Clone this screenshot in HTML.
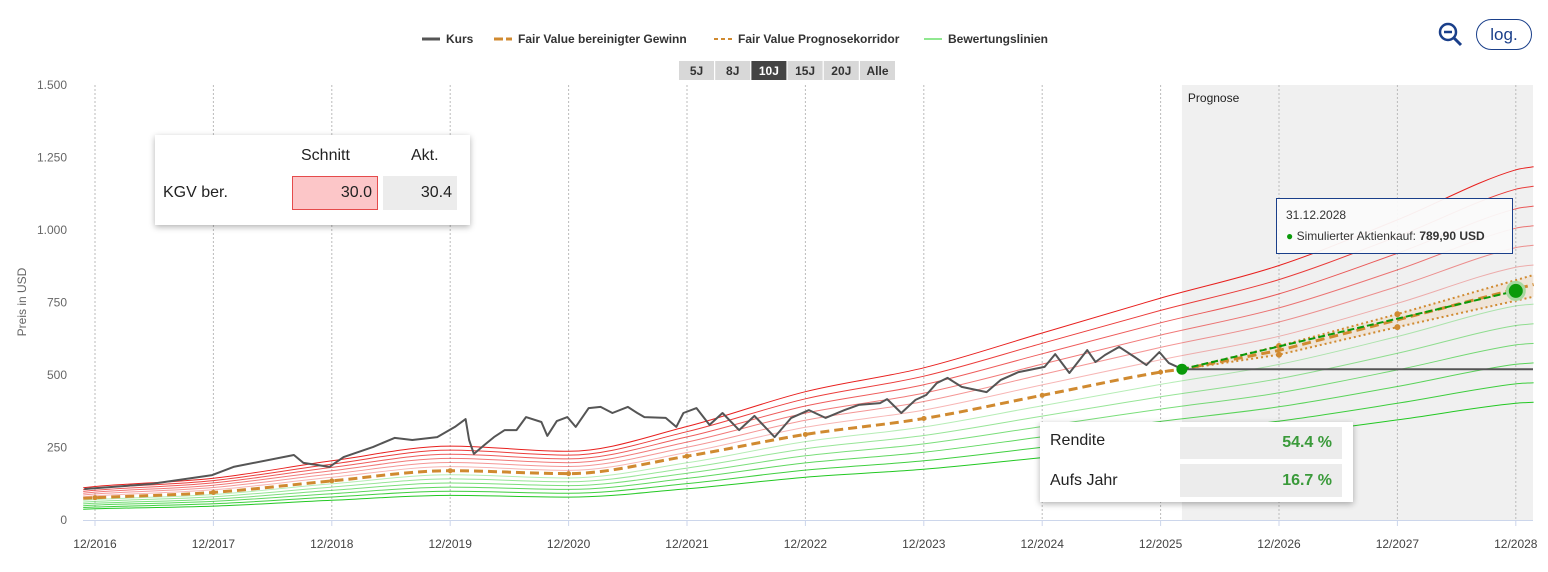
<!DOCTYPE html>
<html><head><meta charset="utf-8">
<style>
body{margin:0;background:#fff;font-family:"Liberation Sans",sans-serif;}
#wrap{position:relative;width:1548px;height:572px;overflow:hidden;}
svg{position:absolute;left:0;top:0;}
.box{position:absolute;background:#fff;box-shadow:0 2px 6px rgba(0,0,0,0.3);}
</style></head><body>
<div id="wrap">
<svg id="chart" width="1548" height="572"></svg>

<div class="box" style="left:155px;top:135px;width:315px;height:90px;">
  <div style="position:absolute;left:146px;top:12px;font-size:16px;color:#222;">Schnitt</div>
  <div style="position:absolute;left:256px;top:12px;font-size:16px;color:#222;">Akt.</div>
  <div style="position:absolute;left:8px;top:49px;font-size:16px;color:#222;">KGV ber.</div>
  <div style="position:absolute;left:137px;top:41px;width:84px;height:32px;background:#fcc6c8;border:1px solid #e54b4b;font-size:16px;color:#222;text-align:right;line-height:32px;"><span style="padding-right:5px">30.0</span></div>
  <div style="position:absolute;left:228px;top:41px;width:74px;height:34px;background:#ececec;font-size:16px;color:#222;text-align:right;line-height:34px;"><span style="padding-right:5px">30.4</span></div>
</div>

<div class="box" style="left:1040px;top:422px;width:313px;height:80px;">
  <div style="position:absolute;left:10px;top:10px;font-size:16px;color:#222;">Rendite</div>
  <div style="position:absolute;left:140px;top:5px;width:162px;height:32px;background:#ececec;font-size:16px;color:#3a9a3a;font-weight:bold;text-align:right;line-height:32px;"><span style="padding-right:10px">54.4 %</span></div>
  <div style="position:absolute;left:10px;top:50px;font-size:16px;color:#222;">Aufs Jahr</div>
  <div style="position:absolute;left:140px;top:42px;width:162px;height:33px;background:#ececec;font-size:16px;color:#3a9a3a;font-weight:bold;text-align:right;line-height:33px;"><span style="padding-right:10px">16.7 %</span></div>
</div>

<div style="position:absolute;left:1276px;top:198px;width:235px;height:54px;background:rgba(250,250,250,0.95);border:1px solid #1a3f8a;">
  <div style="position:absolute;left:9px;top:9px;font-size:12px;color:#333;">31.12.2028</div>
  <div style="position:absolute;left:9px;top:30px;font-size:12px;color:#333;white-space:nowrap;"><span style="color:#0a9a0a">●</span> Simulierter Aktienkauf: <b>789,90 USD</b></div>
</div>

<div style="position:absolute;left:1476px;top:19px;width:56px;height:31px;border:1px solid #1a3f8a;border-radius:16px;box-sizing:border-box;font-size:17px;color:#1a3f8a;text-align:center;line-height:29px;">log.</div>
<svg width="28" height="28" style="left:1437px;top:21px;">
  <circle cx="11" cy="11" r="8" fill="none" stroke="#1a3f8a" stroke-width="2.5"/>
  <line x1="7" y1="11" x2="15" y2="11" stroke="#1a3f8a" stroke-width="2.5"/>
  <line x1="17" y1="17" x2="24" y2="24" stroke="#1a3f8a" stroke-width="3"/>
</svg>
</div>

<script>
const yearLabels=["12/2016","12/2017","12/2018","12/2019","12/2020","12/2021","12/2022","12/2023","12/2024","12/2025","12/2026","12/2027","12/2028"];
const yTicks=[0,250,500,750,1000,1250,1500];
const yTickLabels=["0","250","500","750","1.000","1.250","1.500"];
const kursT=[-0.09,0.47,0.99,1.17,1.68,1.76,1.98,2.10,2.35,2.53,2.68,2.89,3.04,3.13,3.16,3.20,3.29,3.37,3.46,3.56,3.64,3.77,3.82,3.90,3.99,4.06,4.17,4.27,4.37,4.50,4.58,4.64,4.82,4.91,4.97,5.08,5.19,5.30,5.44,5.57,5.74,5.88,6.03,6.17,6.33,6.45,6.63,6.69,6.81,6.93,7.02,7.11,7.20,7.32,7.53,7.65,7.80,8.02,8.11,8.23,8.38,8.45,8.53,8.65,8.78,8.88,8.99,9.07,9.18];
const kursV=[107,124,155,183,224,197,183,217,252,283,276,286,321,348,276,228,259,286,310,310,355,338,290,341,355,321,386,390,369,390,369,355,352,321,369,386,328,369,310,359,286,352,379,352,379,397,403,417,369,414,431,472,490,459,441,483,510,528,572,507,586,545,569,597,562,534,579,541,521];
const fairT=[-0.1,0,1,2,3,4,5,6,7,8,9,9.18];
const fairV=[75,77,95,135,170,160,220,295,350,430,510,520];
const fcT=[9.18,10,11,12.15];
const fcMid=[520,585,690,812];
const fcUp=[520,600,710,845];
const fcLow=[520,570,665,770];
const simT=[9.18,12];
const simV=[520,790];
const bandT=[-0.1,0,1,2,3,4,5,6,7,8,9,10,11,12,12.15];
const bandBase=[74,77,96,136,170,158,215,295,350,430,510,585,690,805,812];
const bandRatios=[0.5,0.583,0.667,0.75,0.833,0.917,1.083,1.167,1.25,1.333,1.417,1.5];

const svg=document.getElementById('chart');
const NS="http://www.w3.org/2000/svg";
const X=t=>95+t*118.4;
const Y=v=>520-v*0.29;
function mk(tag,attrs){const e=document.createElementNS(NS,tag);for(const k in attrs)e.setAttribute(k,attrs[k]);svg.appendChild(e);return e;}
function path(ts,vs){return ts.map((t,i)=>(i?'L':'M')+X(t).toFixed(1)+' '+Y(vs[i]).toFixed(1)).join(' ');}
function smooth(ts,vs){
  const xs=ts.map(X),ys=vs.map(Y),n=xs.length,d=[],m=[];
  for(let i=0;i<n-1;i++)d.push((ys[i+1]-ys[i])/(xs[i+1]-xs[i]));
  for(let i=0;i<n;i++){
    if(i===0)m.push(d[0]);else if(i===n-1)m.push(d[n-2]);
    else m.push(d[i-1]*d[i]<=0?0:(d[i-1]+d[i])/2);
  }
  let p='M'+xs[0].toFixed(1)+' '+ys[0].toFixed(1);
  for(let i=0;i<n-1;i++){const h=(xs[i+1]-xs[i])/3;
    p+=` C${(xs[i]+h).toFixed(1)} ${(ys[i]+m[i]*h).toFixed(1)} ${(xs[i+1]-h).toFixed(1)} ${(ys[i+1]-m[i+1]*h).toFixed(1)} ${xs[i+1].toFixed(1)} ${ys[i+1].toFixed(1)}`;}
  return p;
}

let e=mk('rect',{x:X(9.18),y:85,width:1533-X(9.18),height:435,fill:'#f0f0f0'});


e=mk('text',{x:X(9.18)+6,y:102,'font-size':12,fill:'#222','font-family':'Liberation Sans'});e.textContent='Prognose';



yearLabels.forEach((l,i)=>{
  let g=mk('line',{x1:X(i),x2:X(i),y1:85,y2:520,stroke:'#bbb','stroke-dasharray':'2,2','stroke-width':1});
  
  
  let tk=mk('line',{x1:X(i),x2:X(i),y1:520,y2:526,stroke:'#ccd6eb'});
  
  
  let t=mk('text',{x:X(i),y:548,'font-size':12,fill:'#444','text-anchor':'middle','font-family':'Liberation Sans'});t.textContent=l;
  
  
});
yTicks.forEach((v,i)=>{
  let t=mk('text',{x:67,y:Y(v)+4,'font-size':12,fill:'#666','text-anchor':'end','font-family':'Liberation Sans'});t.textContent=yTickLabels[i];
  
  
});
e=mk('text',{x:26,y:302,'font-size':12,fill:'#666','text-anchor':'middle',transform:'rotate(-90 26 302)','font-family':'Liberation Sans'});e.textContent='Preis in USD';


e=mk('line',{x1:83,x2:1533,y1:520.5,y2:520.5,stroke:'#ccd6eb'});



bandRatios.forEach(r=>{
  const vs=bandBase.map(b=>b*r);
  let col,op;
  if(r>1){col='#e8201e';op=0.2+0.8*(r-1)/0.5;}else{col='#22c822';op=0.2+0.8*(1-r)/0.5;}
  let p=mk('path',{d:smooth(bandT,vs),fill:'none',stroke:col,'stroke-opacity':op.toFixed(2),'stroke-width':1});
  
  
});

let area=path(fcT,fcUp)+' '+fcT.slice().reverse().map((t,i)=>'L'+X(t)+' '+Y(fcLow[fcT.length-1-i])).join(' ')+'Z';
e=mk('path',{d:area,fill:'#e8a050','fill-opacity':0.15});


[fcUp,fcLow].forEach(vs=>{
  let p=mk('path',{d:path(fcT,vs),fill:'none',stroke:'#d08a30','stroke-width':2,'stroke-dasharray':'2,3'});
  
  
  fcT.forEach((t,i)=>{if(i>0&&i<3){let c=mk('circle',{cx:X(t),cy:Y(vs[i]),r:3,fill:'#d08a30'});}});
});
e=mk('path',{d:smooth(fairT,fairV)+' '+path(fcT,fcMid).replace('M','L'),fill:'none',stroke:'#d08a30','stroke-width':3,'stroke-dasharray':'9,5'});


fairT.forEach((t,i)=>{if(i>0&&i<fairT.length-1){let c=mk('circle',{cx:X(t),cy:Y(fairV[i]),r:2.5,fill:'#d08a30'});}});
e=mk('path',{d:path(kursT,kursV),fill:'none',stroke:'#555','stroke-width':2,'stroke-linejoin':'round'});


e=mk('line',{x1:X(simT[0]),x2:1533,y1:Y(simV[0]),y2:Y(simV[0]),stroke:'#555','stroke-width':2});


e=mk('path',{d:path(simT,simV),fill:'none',stroke:'#0a9a0a','stroke-width':2,'stroke-dasharray':'7,3'});


e=mk('circle',{cx:X(simT[0]),cy:Y(simV[0]),r:5.5,fill:'#0a9a0a'});


e=mk('circle',{cx:X(simT[1]),cy:Y(simV[1]),r:8.5,fill:'#0a9a0a',stroke:'#a8d8a0','stroke-width':3});



const legend=[["Kurs",422,'kurs'],["Fair Value bereinigter Gewinn",494,'fv'],["Fair Value Prognosekorridor",714,'fc'],["Bewertungslinien",924,'bw']];
legend.forEach(([lab,x,k])=>{
  let g;
  if(k==='kurs')g=mk('line',{x1:x,x2:x+18,y1:39,y2:39,stroke:'#555','stroke-width':3});
  if(k==='fv')g=mk('line',{x1:x,x2:x+18,y1:39,y2:39,stroke:'#d08a30','stroke-width':3,'stroke-dasharray':'9,3'});
  if(k==='fc')g=mk('line',{x1:x,x2:x+18,y1:39,y2:39,stroke:'#d08a30','stroke-width':2,'stroke-dasharray':'4,3'});
  if(k==='bw')g=mk('line',{x1:x,x2:x+18,y1:39,y2:39,stroke:'#90e890','stroke-width':2});
  
  
  let t=mk('text',{x:x+24,y:43,'font-size':12,'font-weight':'bold',fill:'#333','font-family':'Liberation Sans'});t.textContent=lab;
  
  
});
const ranges=["5J","8J","10J","15J","20J","Alle"];
ranges.forEach((r,i)=>{
  const x=679+i*36.2;
  let b=mk('rect',{x:x,y:61,width:35,height:19,fill:r==='10J'?'#444':'#d8d8d8'});
  
  
  let t=mk('text',{x:x+17.5,y:75,'font-size':12,'font-weight':'bold','text-anchor':'middle',fill:r==='10J'?'#fff':'#333','font-family':'Liberation Sans'});t.textContent=r;
  
  
});
</script>
</body></html>
